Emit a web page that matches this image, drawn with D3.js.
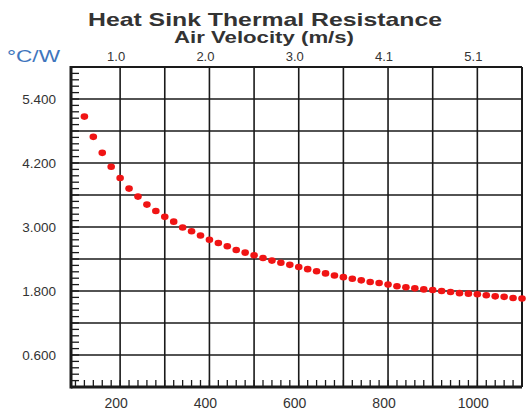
<!DOCTYPE html>
<html>
<head>
<meta charset="utf-8">
<script src="https://cdn.jsdelivr.net/npm/d3@7"></script>
<style>
  body { margin: 0; background: #fff; }
  svg text { font-family: "Liberation Sans", Arial, sans-serif; }
</style>
</head>
<body>
<div id="chart"></div>
<script>
// airflow (LFM) and thermal resistance (°C/W)
const airflow = [120, 140, 160, 180, 200, 220, 240, 260, 280, 300,
                 320, 340, 360, 380, 400, 420, 440, 460, 480, 500,
                 520, 540, 560, 580, 600, 620, 640, 660, 680, 700,
                 720, 740, 760, 780, 800, 820, 840, 860, 880, 900,
                 920, 940, 960, 980, 1000, 1020, 1040, 1060, 1080, 1100];
const resistance = [5.07, 4.69, 4.39, 4.13, 3.92, 3.72, 3.57, 3.42, 3.30, 3.19,
                    3.10, 2.99, 2.92, 2.84, 2.76, 2.70, 2.64, 2.57, 2.52, 2.47,
                    2.42, 2.37, 2.33, 2.29, 2.25, 2.21, 2.17, 2.13, 2.09, 2.06,
                    2.03, 2.00, 1.97, 1.95, 1.92, 1.89, 1.87, 1.85, 1.83, 1.82,
                    1.80, 1.78, 1.76, 1.75, 1.74, 1.72, 1.70, 1.69, 1.67, 1.66];
const xTicks = [200, 400, 600, 800, 1000];
const velocityTicks = [200, 400, 600, 800, 1000];
const velocityLabels = ['1.0', '2.0', '3.0', '4.1', '5.1'];
const yTicks = [0.6, 1.8, 3.0, 4.2, 5.4];

const width = 526, height = 414;
const margin = { top: 67, right: 4, bottom: 27, left: 71 };

const svg = d3.select('#chart').append('svg')
  .attr('width', width).attr('height', height);

const x = d3.scaleLinear().domain([90, 1100]).range([margin.left, width - margin.right]);
const y = d3.scaleLinear().domain([0, 6]).range([height - margin.bottom, margin.top]);

const ink = '#1a1a1a';

// grid
svg.append('g')
  .selectAll('line')
  .data(d3.range(200, 1101, 100))
  .join('line')
  .attr('x1', d => x(d)).attr('x2', d => x(d))
  .attr('y1', y(6)).attr('y2', y(0))
  .attr('stroke', ink).attr('stroke-width', 1.6);

svg.append('g')
  .selectAll('line')
  .data(d3.range(1, 10).map(i => i * 0.6))
  .join('line')
  .attr('x1', x(90)).attr('x2', x(1100))
  .attr('y1', d => y(d)).attr('y2', d => y(d))
  .attr('stroke', ink).attr('stroke-width', 1.6);

// minor ticks pointing into the plot
svg.append('g')
  .selectAll('line')
  .data(d3.range(100, 1101, 20))
  .join('line')
  .attr('x1', d => x(d)).attr('x2', d => x(d))
  .attr('y1', y(0)).attr('y2', y(0) - 7)
  .attr('stroke', ink).attr('stroke-width', 1.3);

svg.append('g')
  .selectAll('line')
  .data(d3.range(1, 50).map(i => i * 0.12))
  .join('line')
  .attr('x1', x(90)).attr('x2', x(90) + 8)
  .attr('y1', d => y(d)).attr('y2', d => y(d))
  .attr('stroke', ink).attr('stroke-width', 1.3);

// frame
svg.append('line')
  .attr('x1', x(90)).attr('x2', x(1100)).attr('y1', y(6)).attr('y2', y(6))
  .attr('stroke', ink).attr('stroke-width', 2.2);
svg.append('line')
  .attr('x1', x(1100)).attr('x2', x(1100)).attr('y1', y(6)).attr('y2', y(0))
  .attr('stroke', ink).attr('stroke-width', 2);
svg.append('line')
  .attr('x1', x(90)).attr('x2', x(1100)).attr('y1', y(0)).attr('y2', y(0))
  .attr('stroke', ink).attr('stroke-width', 3);
svg.append('line')
  .attr('x1', x(90)).attr('x2', x(90)).attr('y1', y(6) - 1).attr('y2', y(0) + 1.5)
  .attr('stroke', ink).attr('stroke-width', 3);

// axis labels
svg.append('g')
  .selectAll('text')
  .data(xTicks)
  .join('text')
  .attr('x', d => x(d) - 4).attr('y', 408)
  .attr('text-anchor', 'middle')
  .attr('font-size', 14).attr('fill', '#333')
  .text(d => d);

svg.append('g')
  .selectAll('text')
  .data(yTicks)
  .join('text')
  .attr('x', 56).attr('y', d => y(d) + 4.5)
  .attr('text-anchor', 'end')
  .attr('font-size', 13.5).attr('fill', '#333')
  .text(d => d.toFixed(3));

svg.append('g')
  .selectAll('text')
  .data(velocityTicks)
  .join('text')
  .attr('x', (d, i) => x(d) - 4).attr('y', 61)
  .attr('text-anchor', 'middle')
  .attr('font-size', 13).attr('fill', '#333')
  .text((d, i) => velocityLabels[i]);

svg.append('text')
  .attr('x', 7).attr('y', 62)
  .attr('font-size', 17).attr('fill', '#3f76bd')
  .attr('textLength', 53).attr('lengthAdjust', 'spacingAndGlyphs')
  .text('°C/W');

svg.append('text')
  .attr('x', 88).attr('y', 26)
  .attr('font-size', 18.5).attr('font-weight', 'bold').attr('fill', '#333')
  .attr('textLength', 354).attr('lengthAdjust', 'spacingAndGlyphs')
  .text('Heat Sink Thermal Resistance');

svg.append('text')
  .attr('x', 174).attr('y', 43)
  .attr('font-size', 16).attr('font-weight', 'bold').attr('fill', '#333')
  .attr('textLength', 180).attr('lengthAdjust', 'spacingAndGlyphs')
  .text('Air Velocity (m/s)');

// data points
svg.append('g')
  .selectAll('ellipse')
  .data(airflow)
  .join('ellipse')
  .attr('cx', d => x(d))
  .attr('cy', (d, i) => y(resistance[i]))
  .attr('rx', 3.8).attr('ry', 3.3)
  .attr('fill', '#f01414');
</script>
</body>
</html>
